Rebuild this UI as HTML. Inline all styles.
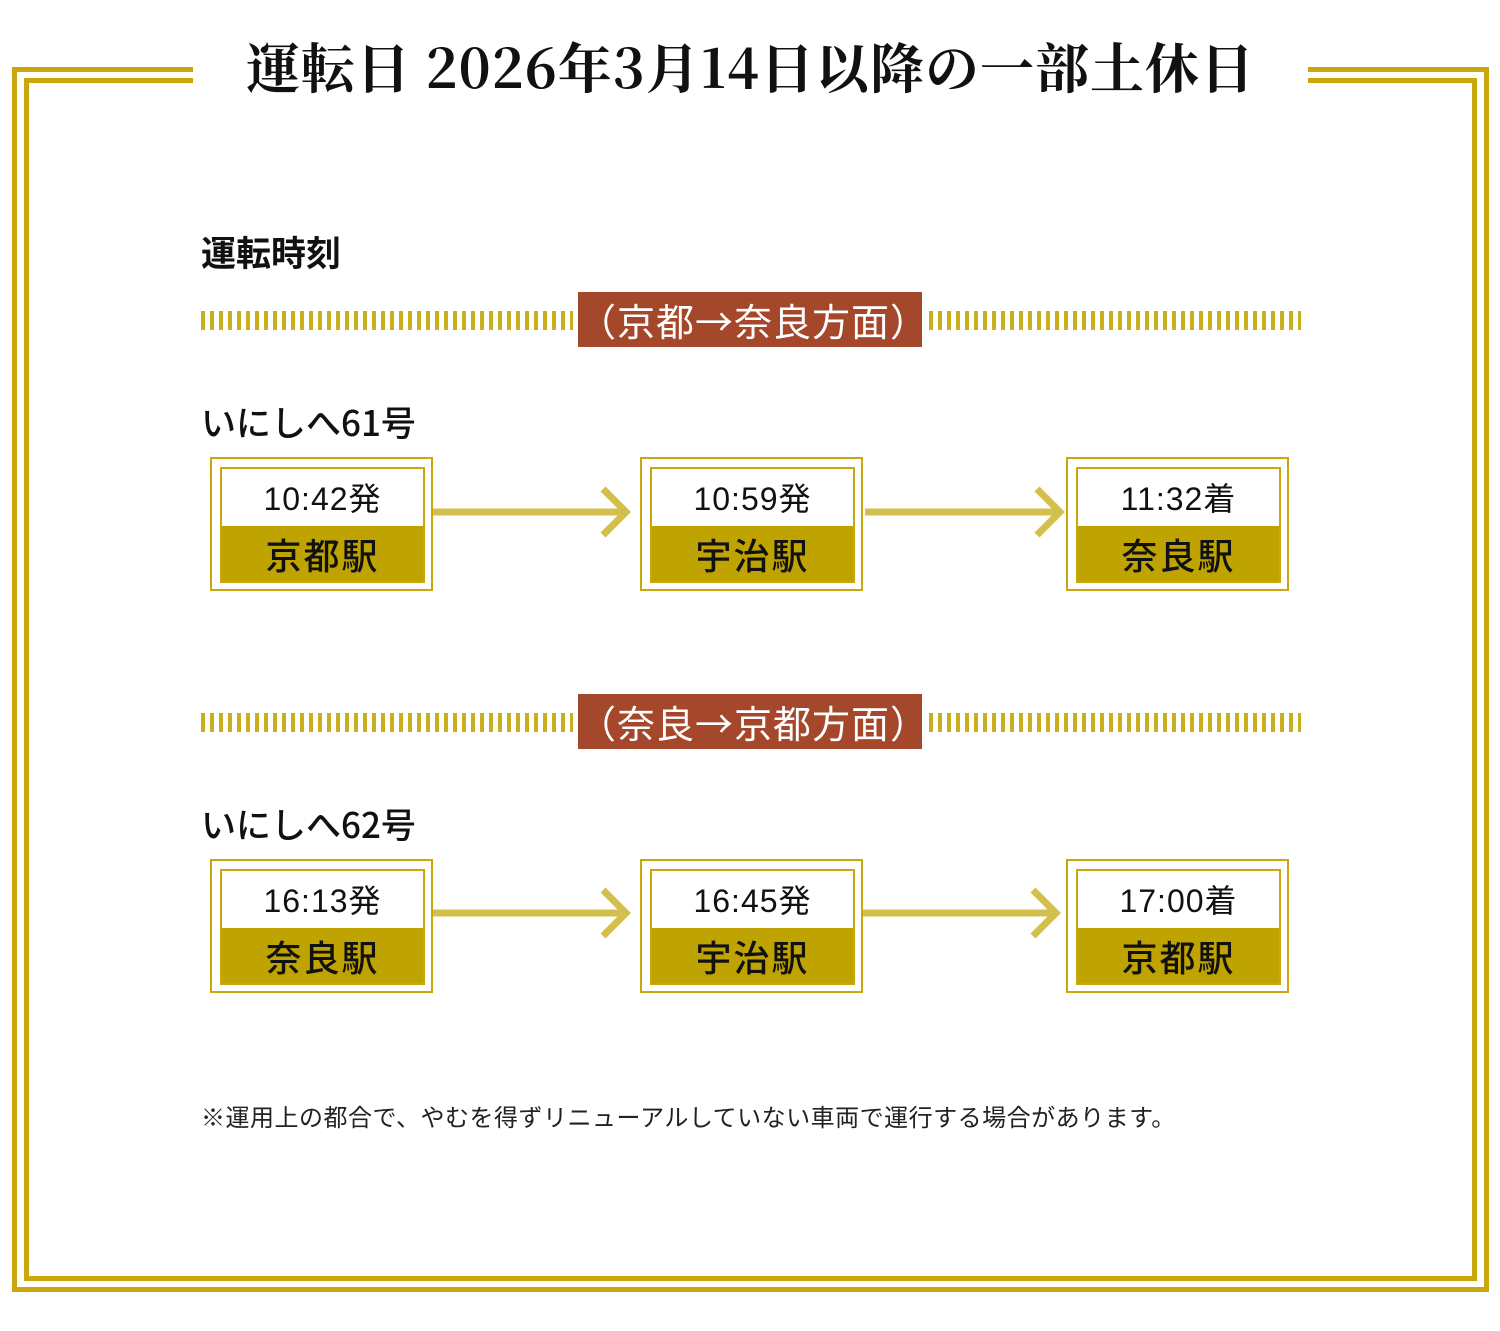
<!DOCTYPE html>
<html><head><meta charset="utf-8"><style>
*{margin:0;padding:0;box-sizing:border-box}
body{width:1500px;height:1331px;background:#fff;position:relative;overflow:hidden;font-family:"Noto Sans CJK JP","Liberation Sans",sans-serif;color:#111}
.a{position:absolute}
.g{background:#cba70e}
.title{position:absolute;left:193px;width:1115px;top:31px;text-align:center;font-family:"Noto Serif CJK SC","Liberation Serif",serif;font-size:54px;font-weight:bold;line-height:70px;letter-spacing:1px;white-space:nowrap}
.h{position:absolute;left:201px;font-weight:bold;font-size:35px;line-height:40px}
.hatch{position:absolute;height:19px;background:repeating-linear-gradient(90deg,#c9ae1e 0 4px,transparent 4px 9px)}
.lab{position:absolute;left:578px;width:344px;height:55px;background:#a5472a;color:#fff;font-size:38px;line-height:55px;text-align:center;letter-spacing:1px}
.box{position:absolute;width:223px;height:134px;border:2px solid #cba70e}
.box .in{position:absolute;left:8px;top:8px;right:6px;bottom:6px;border:2px solid #cba70e}
.box .t{height:61px;background:#fff;text-align:center;font-size:32px;line-height:60px;letter-spacing:1px;font-family:"Liberation Sans","Noto Sans CJK JP",sans-serif}
.box .s{position:absolute;left:0;right:0;bottom:0;height:55px;background:#bfa300;text-align:center;font-size:36px;line-height:56px;font-weight:500;letter-spacing:2px}
</style></head><body>
<div class="a g" style="left:12px;top:67px;width:181px;height:5px"></div>
<div class="a g" style="left:24px;top:78px;width:169px;height:5px"></div>
<div class="a g" style="left:1308px;top:67px;width:181px;height:5px"></div>
<div class="a g" style="left:1308px;top:78px;width:169px;height:5px"></div>
<div class="a g" style="left:12px;top:67px;width:5px;height:1225px"></div>
<div class="a g" style="left:24px;top:78px;width:5px;height:1203px"></div>
<div class="a g" style="left:1484px;top:67px;width:5px;height:1225px"></div>
<div class="a g" style="left:1472px;top:78px;width:5px;height:1203px"></div>
<div class="a g" style="left:12px;top:1287px;width:1477px;height:5px"></div>
<div class="a g" style="left:24px;top:1276px;width:1453px;height:5px"></div>

<div class="title">運転日 2026年3月14日以降の一部土休日</div>
<div class="h" style="top:232px">運転時刻</div>

<div class="hatch" style="left:201px;width:372px;top:311px"></div>
<div class="hatch" style="left:929px;width:372px;top:311px"></div>
<div class="lab" style="top:292px">（京都→奈良方面）</div>
<div class="h" style="top:402px;font-weight:500">いにしへ61号</div>

<div class="hatch" style="left:201px;width:372px;top:713px"></div>
<div class="hatch" style="left:929px;width:372px;top:713px"></div>
<div class="lab" style="top:694px">（奈良→京都方面）</div>
<div class="h" style="top:804px;font-weight:500">いにしへ62号</div>

<div class="box" style="left:210px;top:457px"><div class="in"><div class="t">10:42発</div><div class="s">京都駅</div></div></div>
<div class="box" style="left:640px;top:457px"><div class="in"><div class="t">10:59発</div><div class="s">宇治駅</div></div></div>
<div class="box" style="left:1066px;top:457px"><div class="in"><div class="t">11:32着</div><div class="s">奈良駅</div></div></div>
<div class="box" style="left:210px;top:859px"><div class="in"><div class="t">16:13発</div><div class="s">奈良駅</div></div></div>
<div class="box" style="left:640px;top:859px"><div class="in"><div class="t">16:45発</div><div class="s">宇治駅</div></div></div>
<div class="box" style="left:1066px;top:859px"><div class="in"><div class="t">17:00着</div><div class="s">京都駅</div></div></div>

<svg class="a" style="left:0;top:0" width="1500" height="1331">
<g stroke="#d4bf4c" stroke-width="7" fill="none">
<line x1="433" y1="512" x2="626" y2="512"/><polyline points="603,489 626,512 603,535"/>
<line x1="865" y1="512" x2="1060" y2="512"/><polyline points="1037,489 1060,512 1037,535"/>
<line x1="433" y1="913" x2="626" y2="913"/><polyline points="603,890 626,913 603,936"/>
<line x1="863" y1="913" x2="1056" y2="913"/><polyline points="1033,890 1056,913 1033,936"/>
</g></svg>

<div class="a" style="left:201px;top:1100px;font-size:24px;line-height:32px;color:#222;white-space:nowrap;letter-spacing:0.5px">※運用上の都合で、やむを得ずリニューアルしていない車両で運行する場合があります。</div>
</body></html>
